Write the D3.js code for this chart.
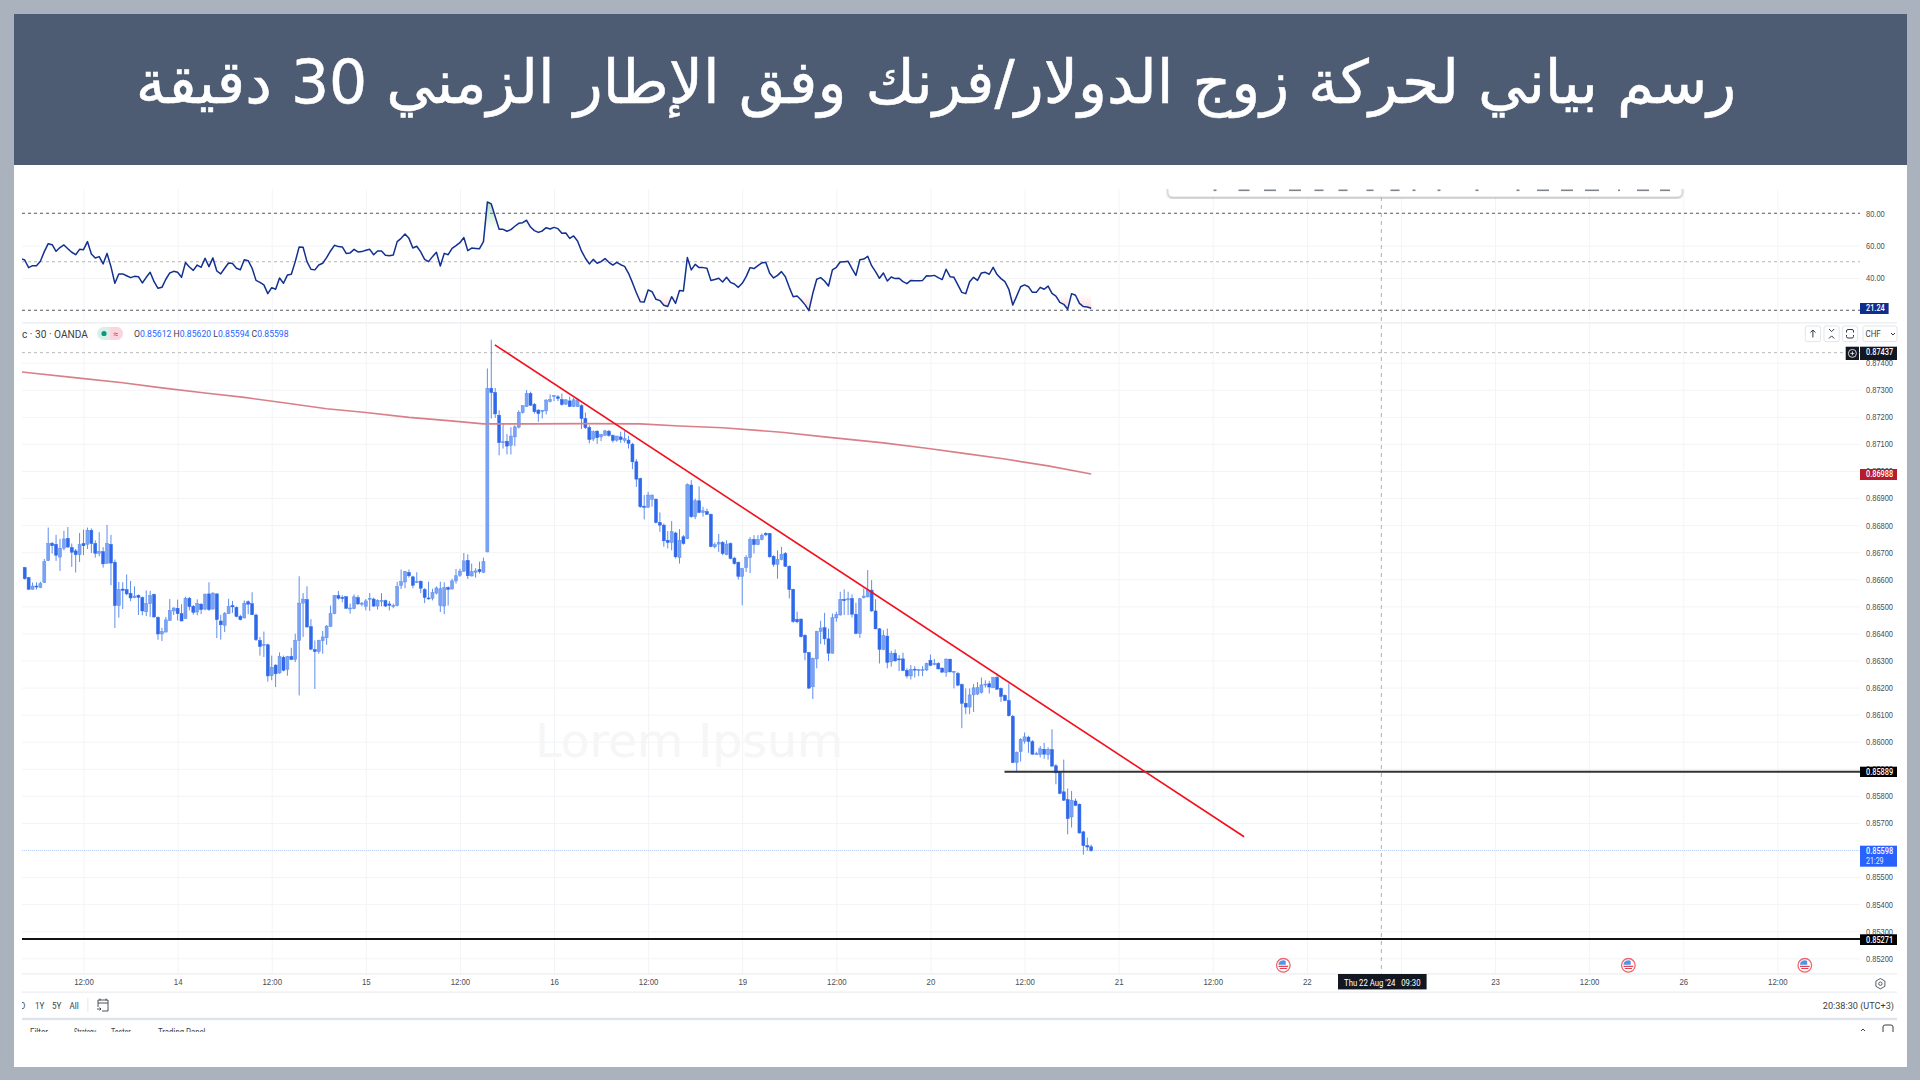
<!DOCTYPE html>
<html>
<head>
<meta charset="utf-8">
<script src="https://cdn.jsdelivr.net/npm/d3@7"></script>
<style>
  html, body { margin: 0; padding: 0; background: #aab2bd; }
  svg { display: block; font-family: Roboto, sans-serif; }
</style>
</head>
<body>
<svg id="chart" width="1920" height="1080"></svg>
<script>
// prices are in 1e-5 units (86643 = 0.86643), one 30 min bar per entry
const opens = [
  86643,86606,86563,86575,86570,86588,86669,86733,86729,86682,
  86715,86751,86717,86705,86691,86732,86729,86781,86732,86696,
  86702,86659,86729,86663,86503,86564,86562,86548,86532,86541,
  86532,86480,86510,86544,86459,86398,86405,86448,86483,86493,
  86473,86455,86530,86500,86479,86508,86490,86546,86490,86546,
  86446,86430,86473,86503,86496,86463,86457,86517,86510,86468,
  86374,86358,86358,86244,86283,86254,86312,86267,86315,86304,
  86374,86512,86525,86425,86340,86333,86373,86384,86426,86473,
  86540,86533,86536,86492,86492,86532,86508,86500,86527,86527,
  86501,86521,86521,86509,86501,86503,86577,86590,86625,86609,
  86589,86593,86562,86531,86530,86549,86503,86501,86569,86564,
  86594,86615,86630,86670,86612,86626,86636,86626,86701,87305,
  87290,87206,87107,87110,87095,87126,87162,87216,87238,87286,
  87246,87225,87221,87222,87257,87277,87274,87264,87247,87259,
  87238,87238,87241,87194,87161,87118,87147,87126,87132,87147,
  87131,87114,87126,87113,87114,87099,87034,86972,86870,86866,
  86895,86896,86810,86800,86744,86736,86771,86680,86757,86750,
  86948,86831,86890,86847,86850,86840,86720,86730,86736,86691,
  86732,86678,86663,86611,86643,86680,86747,86728,86747,86770,
  86769,86685,86655,86673,86695,86648,86563,86452,86453,86393,
  86329,86203,86306,86407,86421,86380,86327,86457,86468,86526,
  86524,86529,86471,86400,86532,86535,86560,86483,86417,86341,
  86390,86295,86327,86306,86306,86264,86243,86268,86263,86265,
  86265,86301,86285,86289,86272,86256,86305,86257,86252,86211,
  86142,86128,86173,86176,86182,86210,86214,86199,86237,86197,
  86171,86152,86094,85923,85963,86002,86017,86000,85954,85953,
  85972,85952,85971,85911,85887,85815,85786,85722,85781,85769,
  85667,85616,85612];
const highs = [
  86646,86609,86588,86589,86591,86675,86791,86738,86764,86749,
  86779,86793,86732,86712,86771,86784,86791,86788,86744,86774,
  86719,86801,86764,86673,86590,86589,86618,86594,86574,86544,
  86537,86559,86557,86547,86463,86421,86461,86527,86496,86525,
  86508,86536,86535,86505,86526,86512,86548,86589,86552,86548,
  86469,86479,86528,86520,86500,86469,86522,86522,86552,86473,
  86387,86407,86362,86318,86286,86330,86318,86317,86347,86399,
  86611,86549,86574,86453,86374,86377,86409,86431,86503,86542,
  86557,86541,86537,86510,86544,86541,86516,86527,86549,86532,
  86526,86549,86525,86520,86510,86591,86636,86631,86636,86613,
  86626,86595,86567,86591,86565,86574,86591,86589,86574,86602,
  86638,86639,86697,86692,86658,86641,86665,86680,87379,87485,
  87307,87224,87176,87137,87162,87169,87224,87243,87299,87293,
  87251,87228,87226,87265,87283,87280,87280,87286,87265,87275,
  87270,87268,87246,87216,87169,87150,87151,87137,87152,87152,
  87135,87130,87145,87147,87130,87104,87044,86975,86911,86923,
  86913,86898,86847,86806,86778,86815,86775,86785,86763,86954,
  86966,86898,86943,86868,86861,86843,86736,86767,86741,86744,
  86736,86683,86665,86642,86689,86756,86763,86763,86769,86774,
  86771,86689,86707,86720,86701,86651,86565,86480,86455,86397,
  86332,86311,86410,86447,86476,86418,86474,86480,86554,86563,
  86554,86544,86513,86531,86566,86634,86597,86526,86420,86412,
  86418,86336,86341,86320,86329,86271,86283,86279,86269,86279,
  86292,86322,86306,86294,86274,86308,86306,86261,86258,86215,
  86197,86197,86213,86220,86237,86227,86225,86240,86252,86200,
  86175,86215,86099,85964,86013,86034,86022,86006,85963,85984,
  85996,85979,86046,85917,85890,85934,85827,85818,85790,85772,
  85671,85646,85620];
const lows = [
  86599,86562,86562,86562,86567,86586,86668,86695,86668,86631,
  86707,86717,86646,86625,86664,86689,86712,86697,86680,86685,
  86643,86658,86578,86420,86458,86490,86541,86519,86530,86468,
  86467,86464,86461,86458,86377,86372,86404,86447,86468,86448,
  86445,86453,86485,86469,86467,86471,86485,86483,86488,86383,
  86377,86405,86472,86476,86459,86448,86456,86471,86468,86372,
  86318,86313,86222,86227,86202,86251,86260,86244,86301,86294,
  86171,86387,86421,86338,86195,86325,86325,86358,86424,86471,
  86525,86515,86490,86473,86489,86505,86500,86485,86483,86498,
  86488,86500,86498,86485,86493,86500,86564,86567,86606,86567,
  86586,86549,86512,86525,86522,86544,86479,86471,86503,86563,
  86584,86609,86627,86601,86611,86606,86621,86623,86700,87194,
  87196,87058,87083,87061,87061,87092,87157,87212,87236,87241,
  87212,87182,87194,87209,87253,87258,87258,87241,87244,87236,
  87236,87236,87155,87155,87102,87110,87100,87110,87130,87127,
  87105,87108,87104,87105,87083,87007,86941,86864,86821,86864,
  86868,86806,86775,86720,86714,86707,86677,86658,86728,86748,
  86827,86822,86844,86831,86839,86718,86714,86701,86689,86689,
  86674,86654,86599,86504,86627,86623,86695,86726,86744,86759,
  86680,86646,86602,86670,86646,86529,86439,86437,86385,86301,
  86195,86158,86271,86361,86358,86298,86326,86443,86466,86468,
  86468,86459,86397,86383,86529,86533,86480,86415,86289,86338,
  86271,86277,86295,86261,86262,86234,86230,86237,86242,86242,
  86261,86279,86282,86267,86255,86240,86256,86197,86205,86050,
  86102,86102,86110,86172,86178,86200,86178,86198,86192,86147,
  86150,86093,85921,85887,85927,85993,85959,85952,85952,85942,
  85937,85934,85907,85843,85806,85781,85658,85683,85762,85661,
  85583,85597,85594];
const closes = [
  86602,86563,86575,86573,86584,86665,86732,86724,86689,86715,
  86749,86719,86700,86691,86728,86724,86781,86732,86696,86702,
  86657,86732,86660,86503,86562,86559,86546,86531,86538,86533,
  86483,86510,86540,86461,86398,86407,86450,86484,86494,86473,
  86446,86530,86499,86478,86510,86488,86544,86488,86549,86451,
  86432,86474,86500,86498,86463,86451,86512,86508,86469,86377,
  86352,86360,86243,86275,86251,86315,86264,86314,86304,86374,
  86512,86527,86424,86342,86333,86374,86387,86427,86473,86540,
  86530,86531,86493,86494,86535,86509,86512,86520,86530,86501,
  86522,86522,86501,86504,86503,86573,86591,86628,86613,86578,
  86591,86567,86533,86528,86551,86568,86565,86569,86563,86594,
  86613,86630,86668,86613,86628,86631,86628,86665,87305,87290,
  87211,87105,87108,87092,87129,87163,87217,87241,87286,87243,
  87219,87212,87224,87262,87264,87279,87268,87246,87263,87238,
  87263,87263,87194,87160,87116,87145,87123,87135,87148,87131,
  87113,87129,87116,87120,87102,87034,86970,86868,86866,86911,
  86911,86810,86800,86742,86736,86776,86683,86744,86732,86950,
  86831,86890,86847,86853,86840,86721,86728,86737,86695,86730,
  86677,86658,86611,86639,86680,86747,86728,86747,86763,86764,
  86683,86655,86673,86692,86648,86562,86444,86443,86388,86329,
  86198,86308,86407,86420,86380,86327,86458,86470,86526,86521,
  86528,86471,86400,86528,86538,86560,86483,86417,86341,86393,
  86293,86326,86299,86304,86263,86243,86267,86266,86266,86266,
  86289,86282,86289,86269,86257,86305,86258,86260,86209,86142,
  86128,86173,86199,86200,86210,86213,86202,86237,86194,86167,
  86152,86096,85923,85961,86009,86018,86001,85954,85956,85974,
  85954,85972,85910,85885,85809,85784,85716,85784,85765,85663,
  85616,85611,85598];
const rsi = [
  51.1,46.4,47.6,47.6,50.3,56.3,61.2,60.6,56.5,58.8,60.4,58.1,55.9,54.4,57.7,57.5,62.5,54.8,52.4,53.2,
  48.7,55.2,47.0,36.7,42.5,42.5,41.4,40.2,41.0,40.8,36.9,40.4,43.5,37.7,33.6,34.2,39.2,43.1,44.1,43.5,
  40.4,49.5,46.8,44.7,48.0,46.6,52.2,47.0,52.4,44.3,42.5,46.0,49.3,48.9,46.0,45.1,51.3,50.7,46.0,38.5,
  37.3,35.7,30.3,34.0,33.0,40.0,36.7,41.8,42.3,50.1,59.2,59.0,50.1,45.4,45.0,48.0,49.1,52.6,56.7,60.2,
  59.4,59.2,55.2,55.5,57.7,56.1,56.3,57.1,57.7,54.4,56.7,56.7,54.0,53.8,54.2,62.5,64.5,67.2,64.5,58.5,
  59.6,56.1,51.5,50.1,53.2,55.9,47.4,55.2,54.4,58.3,60.0,61.8,65.0,56.9,58.5,58.3,58.1,62.5,87.0,85.8,
  77.9,70.1,70.1,68.9,69.9,72.0,73.8,74.2,75.7,71.5,69.3,68.2,69.1,71.1,70.3,71.3,70.5,67.6,67.8,64.5,
  66.0,62.9,56.7,52.2,48.7,51.5,49.1,50.1,52.0,49.7,48.0,49.7,48.2,47.2,42.9,37.1,30.9,25.3,25.1,32.6,
  31.5,26.8,26.0,23.1,22.3,28.4,24.3,32.2,32.0,52.6,45.0,48.4,46.4,46.4,46.0,38.5,39.0,39.8,37.5,40.4,
  37.3,36.3,34.2,36.7,40.8,46.4,45.8,47.6,49.3,49.7,42.9,40.0,41.6,43.9,40.8,34.2,28.4,28.8,26.4,23.5,
  19.8,30.5,39.2,40.2,38.1,35.0,45.0,46.6,49.9,50.1,50.3,45.8,41.6,51.3,51.7,53.4,47.6,43.9,39.8,43.1,
  38.1,40.6,39.6,39.8,37.7,36.5,38.5,38.3,38.3,38.5,41.4,41.2,41.6,40.2,39.0,45.4,40.8,40.4,35.7,31.1,
  30.3,37.7,40.4,38.5,43.1,43.5,42.3,46.6,42.1,39.6,37.7,33.0,23.3,28.8,34.6,35.7,34.6,31.1,31.1,34.2,
  33.0,35.0,30.5,28.8,24.9,23.7,20.6,30.3,29.3,24.3,22.3,22.0,21.24];
const rsiPrev = 52.0; // bar just off the left edge

// moving average, read at its bends only
const maBars = [-1,14.5,25,35,46,56,67,77,87,98,108,117,129,142,157,167,178,193,204,219,230,240,250,261,272];
const maValues = [87366,87342,87326,87307,87288,87272,87250,87230,87216,87198,87186,87174,87174,87175,87174,87166,87160,87143,87126,87104,87084,87064,87044,87019,86989];

const trendBars = [119.9, 311];
const trendPrices = [87466, 85649];

const rsiTicks = [80, 60, 40];
const rsiLevels = [80, 50, 20];
const priceTicks = d3.range(87400, 85199, -100);
const timeBars = [15,39,63,87,111,135,159,183,207,231,255,279,303,327,351,375,399,423,447];
const timeLabels = ['12:00','14','12:00','15','12:00','16','12:00','19','12:00','20','12:00','21','12:00','22','','23','12:00','26','12:00'];
const eventBars = [321, 409, 454];
const crossBar = 346;
const toolbarMarks = [1215,1244,1270,1295,1319,1343,1370,1395,1414,1439,1477,1518,1543,1567,1592,1619,1643,1665];
const toolbarWidths = [3,11,12,12,9,9,7,9,3,3,3,3,12,12,14,2,12,10];

const titleText = 'رسم بياني لحركة زوج الدولار/فرنك وفق الإطار الزمني 30 دقيقة';

const left = 22, right = 1860;

const x = d3.scaleLinear().domain([0, 468]).range([24.7, 1859.7]);
const yPrice = d3.scaleLinear().domain([87400, 85200]).range([362.7, 958.3]);
const yRsi = d3.scaleLinear().domain([80, 20]).range([213.3, 310.3]);

const svg = d3.select('#chart');
const pct = v => (v / 1e5).toFixed(5);

// narrows the axis text a little, the source screenshot is squeezed sideways
function squeeze(sel, k) {
  sel.each(function () {
    const len = this.getComputedTextLength();
    if (len > 0) d3.select(this).attr('textLength', len * k).attr('lengthAdjust', 'spacingAndGlyphs');
  });
}

function label(g, px, py, txt, size, fill, anchor, k) {
  const t = g.append('text').attr('x', px).attr('y', py).text(txt)
    .attr('font-size', size).attr('fill', fill).attr('text-anchor', anchor || 'start');
  if (k) squeeze(t, k);
  return t;
}

const defs = svg.append('defs');
defs.append('clipPath').attr('id', 'plot').append('rect')
  .attr('x', left).attr('y', 189).attr('width', right - left).attr('height', 785);
defs.append('clipPath').attr('id', 'tabs').append('rect')
  .attr('x', left).attr('y', 1024).attr('width', 1880).attr('height', 8);
defs.append('clipPath').attr('id', 'tools').append('rect')
  .attr('x', 1160).attr('y', 189).attr('width', 530).attr('height', 14);
defs.append('clipPath').attr('id', 'rng').append('rect')
  .attr('x', 22).attr('y', 995).attr('width', 100).attr('height', 20);
defs.append('filter').attr('id', 'soft').append('feGaussianBlur').attr('stdDeviation', 0.35);
defs.append('filter').attr('id', 'shadow').append('feDropShadow')
  .attr('dx', 0).attr('dy', 1).attr('stdDeviation', 1.2).attr('flood-color', '#777').attr('flood-opacity', 0.6);

const gradUp = defs.append('linearGradient').attr('id', 'gradUp').attr('x1', 0).attr('x2', 0).attr('y1', 0).attr('y2', 1);
gradUp.append('stop').attr('offset', '0').attr('stop-color', '#b6e2c0');
gradUp.append('stop').attr('offset', '1').attr('stop-color', '#ffffff');
const gradDown = defs.append('linearGradient').attr('id', 'gradDown').attr('x1', 0).attr('x2', 0).attr('y1', 0).attr('y2', 1);
gradDown.append('stop').attr('offset', '0').attr('stop-color', '#ffffff');
gradDown.append('stop').attr('offset', '1').attr('stop-color', '#fdd5d5');

// page frame and header
svg.append('rect').attr('width', 1920).attr('height', 1080).attr('fill', '#aab2bd');
svg.append('rect').attr('x', 14).attr('y', 14).attr('width', 1893).attr('height', 1053).attr('fill', '#ffffff');
svg.append('rect').attr('x', 14).attr('y', 14).attr('width', 1893).attr('height', 151).attr('fill', '#4d5b73');
svg.append('text').attr('x', 936).attr('y', 103).attr('text-anchor', 'middle')
  .attr('direction', 'rtl').attr('font-family', '"DejaVu Sans", sans-serif')
  .attr('font-size', 60).attr('fill', '#ffffff')
  .attr('stroke', '#ffffff').attr('stroke-width', 0.5).text(titleText);

// grid
const gridColor = '#f3f4f7';
svg.append('g').attr('transform', 'translate(0,322)')
  .call(d3.axisBottom(x).tickValues(timeBars).tickSize(652).tickFormat(''))
  .call(g => g.select('.domain').remove())
  .call(g => g.selectAll('line').attr('stroke', gridColor));
svg.append('g').attr('transform', 'translate(0,189)')
  .call(d3.axisBottom(x).tickValues(timeBars).tickSize(132).tickFormat(''))
  .call(g => g.select('.domain').remove())
  .call(g => g.selectAll('line').attr('stroke', gridColor));
svg.append('g').attr('transform', `translate(${right},0)`)
  .call(d3.axisLeft(yPrice).tickValues(priceTicks).tickSize(right - left).tickFormat(''))
  .call(g => g.select('.domain').remove())
  .call(g => g.selectAll('line').attr('stroke', gridColor));
svg.append('g').attr('transform', `translate(${right},0)`)
  .call(d3.axisLeft(yRsi).tickValues(rsiTicks).tickSize(right - left).tickFormat(''))
  .call(g => g.select('.domain').remove())
  .call(g => g.selectAll('line').attr('stroke', gridColor));

// floating toolbar cut off by the crop
const tools = svg.append('g').attr('clip-path', 'url(#tools)');
tools.append('path').attr('d', 'M1168,180V192q0,5 5,5H1677q5,0 5,-5V180Z')
  .attr('fill', '#ffffff').attr('stroke', '#d8d8d8').attr('filter', 'url(#shadow)');
tools.selectAll('.mark').data(toolbarMarks).enter().append('rect').attr('class', 'mark')
  .attr('x', (d, i) => d - toolbarWidths[i] / 2).attr('y', 189.5)
  .attr('width', (d, i) => toolbarWidths[i]).attr('height', 1.6).attr('fill', '#7f848d');

// watermark
svg.append('text').attr('x', 535).attr('y', 757).attr('font-family', '"DejaVu Sans", sans-serif')
  .attr('font-size', 46).attr('fill', '#f6f6f7').attr('textLength', 308).attr('lengthAdjust', 'spacingAndGlyphs')
  .text('Lorem Ipsum');

const bars = d3.range(closes.length);
const plot = svg.append('g').attr('clip-path', 'url(#plot)');

// rsi pane
const areaUp = d3.area().x(d => x(d)).y0(yRsi(70)).y1(d => yRsi(Math.max(rsi[d], 70))).defined(d => rsi[d] > 70 || rsi[d + 1] > 70 || rsi[d - 1] > 70);
const areaDown = d3.area().x(d => x(d)).y0(yRsi(30)).y1(d => yRsi(Math.min(rsi[d], 30))).defined(d => rsi[d] < 30 || rsi[d + 1] < 30 || rsi[d - 1] < 30);
plot.append('path').attr('d', areaUp(bars)).attr('fill', 'url(#gradUp)');
plot.append('path').attr('d', areaDown(bars)).attr('fill', 'url(#gradDown)');

plot.selectAll('.level').data(rsiLevels).enter().append('line').attr('class', 'level')
  .attr('x1', left).attr('x2', right)
  .attr('y1', d => yRsi(d)).attr('y2', d => yRsi(d))
  .attr('stroke', d => d === 50 ? '#b5b5b5' : '#555a62').attr('stroke-width', 1.1)
  .attr('stroke-dasharray', '3 3');

plot.append('path').attr('fill', 'none').attr('stroke', '#12308f').attr('stroke-width', 1.5)
  .attr('stroke-linejoin', 'round')
  .attr('d', d3.line().x(d => x(d)).y(d => yRsi(d < 0 ? rsiPrev : rsi[d]))([-1].concat(bars)));

// pane separator
svg.append('rect').attr('x', left).attr('y', 322).attr('width', right - left + 37).attr('height', 1.6).attr('fill', '#eef0f4');

// crosshair
plot.append('line').attr('x1', left).attr('x2', right)
  .attr('y1', yPrice(87437)).attr('y2', yPrice(87437))
  .attr('stroke', '#b8b8b8').attr('stroke-dasharray', '3 3');
plot.append('line').attr('x1', x(crossBar)).attr('x2', x(crossBar))
  .attr('y1', 197).attr('y2', 974)
  .attr('stroke', '#b0b0b0').attr('stroke-dasharray', '4 4');

// last price line
plot.append('line').attr('x1', left).attr('x2', right)
  .attr('y1', yPrice(closes[closes.length - 1])).attr('y2', yPrice(closes[closes.length - 1]))
  .attr('stroke', '#bcd2f7').attr('stroke-dasharray', '1 1');

// candles
const candles = plot.append('g').attr('filter', 'url(#soft)');
candles.selectAll('.wick').data(bars).enter().append('line').attr('class', 'wick')
  .attr('x1', d => x(d)).attr('x2', d => x(d))
  .attr('y1', d => yPrice(highs[d])).attr('y2', d => yPrice(lows[d]))
  .attr('stroke', '#5f8dee').attr('stroke-width', 1);
candles.selectAll('.body').data(bars).enter().append('rect').attr('class', 'body')
  .attr('x', d => x(d) - 1.5).attr('width', 3)
  .attr('y', d => yPrice(Math.max(opens[d], closes[d])))
  .attr('height', d => Math.max(1, Math.abs(yPrice(opens[d]) - yPrice(closes[d]))))
  .attr('fill', d => opens[d] > closes[d] ? '#2f69ea' : '#7ba3f2')
  .attr('stroke', d => opens[d] > closes[d] ? '#2f69ea' : '#5c8df0').attr('stroke-width', 0.5);

// moving average
plot.append('path').attr('fill', 'none').attr('stroke', '#d97f88').attr('stroke-width', 1.6)
  .attr('d', d3.line().x((d, i) => x(maBars[i])).y(d => yPrice(d))(maValues));

// support lines and trend line
plot.append('line').attr('x1', 1004.5).attr('x2', right)
  .attr('y1', yPrice(85889)).attr('y2', yPrice(85889)).attr('stroke', '#333333').attr('stroke-width', 1.8);
plot.append('line').attr('x1', left).attr('x2', right)
  .attr('y1', yPrice(85271)).attr('y2', yPrice(85271)).attr('stroke', '#111111').attr('stroke-width', 2);
plot.append('path').attr('fill', 'none').attr('stroke', '#f2101e').attr('stroke-width', 1.6)
  .attr('d', d3.line().x((d, i) => x(trendBars[i])).y(d => yPrice(d))(trendPrices));

// axes
svg.append('g').attr('transform', `translate(${right + 6},0)`)
  .call(d3.axisRight(yPrice).tickValues(priceTicks).tickSize(0).tickPadding(0).tickFormat(pct))
  .call(g => g.select('.domain').remove())
  .call(g => g.selectAll('text').attr('font-size', 9).attr('fill', '#4a4e57').call(squeeze, 0.83));
svg.append('g').attr('transform', `translate(${right + 6},0)`)
  .call(d3.axisRight(yRsi).tickValues(rsiTicks).tickSize(0).tickPadding(0).tickFormat(d => d.toFixed(2)))
  .call(g => g.select('.domain').remove())
  .call(g => g.selectAll('text').attr('font-size', 9).attr('fill', '#4a4e57').call(squeeze, 0.83));
svg.append('g').attr('transform', 'translate(0,974)')
  .call(d3.axisBottom(x).tickValues(timeBars).tickSize(0).tickPadding(5).tickFormat((d, i) => timeLabels[i]))
  .call(g => g.select('.domain').remove())
  .call(g => g.selectAll('text').attr('font-size', 9).attr('fill', '#4a4e57').call(squeeze, 0.87));

svg.append('rect').attr('x', left).attr('y', 973.4).attr('width', 1875).attr('height', 1).attr('fill', '#e6e8ee');
svg.append('rect').attr('x', left).attr('y', 991.6).attr('width', 1875).attr('height', 1).attr('fill', '#e6e8ee');
svg.append('rect').attr('x', left).attr('y', 1017.8).attr('width', 1875).attr('height', 2.4).attr('fill', '#dfe3ec');

// price tags on the right
const tags = svg.append('g');
function tag(y0, y1, w, fill, txt, sub) {
  tags.append('rect').attr('x', right).attr('y', y0).attr('width', w).attr('height', y1 - y0).attr('fill', fill);
  label(tags, right + 6, y0 + 8.2, txt, 9, '#ffffff', 'start', 0.83).attr('font-weight', 500);
  if (sub) label(tags, right + 6, y0 + 18, sub, 8.5, '#e4ecff', 'start', 0.83);
}
tag(303, 314, 28.6, '#0f2d8c', '21.24');
tag(346.7, 360, 37, '#131722', pct(87437));
tag(469, 480, 37, '#b71c2c', pct(86988));
tag(766.7, 777, 37, '#000000', pct(85889));
tag(845.7, 866.7, 37, '#2962ff', pct(85598), '21:29');
tag(934.3, 945, 37, '#000000', pct(85271));

// plus button next to the crosshair tag
tags.append('rect').attr('x', 1845.7).attr('y', 346.7).attr('width', 13.3).attr('height', 13.3).attr('fill', '#131722');
tags.append('circle').attr('cx', 1852.4).attr('cy', 353.4).attr('r', 4).attr('fill', 'none').attr('stroke', '#ffffff').attr('stroke-width', 0.8);
tags.append('path').attr('d', 'M1850.4,353.4h4M1852.4,351.4v4').attr('stroke', '#ffffff').attr('stroke-width', 0.8);

// legend row
const legend = svg.append('g');
label(legend, 22, 337.5, 'c · 30 · OANDA', 10, '#3a3e47').attr('textLength', 66).attr('lengthAdjust', 'spacingAndGlyphs');
legend.append('rect').attr('x', 97).attr('y', 327).attr('width', 26).attr('height', 13).attr('rx', 6.5).attr('fill', '#d9f0ea');
legend.append('path').attr('d', 'M110,327h6.5a6.5,6.5 0 0 1 0,13h-6.5Z').attr('fill', '#fbd5de');
legend.append('circle').attr('cx', 104).attr('cy', 333.5).attr('r', 2.6).attr('fill', '#0d9a7c');
label(legend, 116, 336.5, '≈', 9, '#e0355f', 'middle');
const ohlc = legend.append('text').attr('x', 134).attr('y', 337).attr('font-size', 9.3)
  .attr('textLength', 154.6).attr('lengthAdjust', 'spacingAndGlyphs');
[['O', opens], ['H', highs], ['L', lows], ['C', closes]].forEach((p, i) => {
  ohlc.append('tspan').attr('fill', '#3a3e47').text((i ? ' ' : '') + p[0]);
  ohlc.append('tspan').attr('fill', '#2962ff').text(pct(p[1][p[1].length - 1]));
});

// small buttons top right of the price pane
const btns = svg.append('g');
[1805.3, 1824, 1842.4].forEach(bx => {
  btns.append('rect').attr('x', bx).attr('y', 326).attr('width', 15.2).attr('height', 15.6).attr('rx', 2)
    .attr('fill', '#ffffff').attr('stroke', '#e3e5ea');
});
btns.append('path').attr('d', 'M1812.9,337.5v-7.5M1810.4,332.5l2.5,-2.5l2.5,2.5').attr('fill', 'none').attr('stroke', '#333a45');
btns.append('path').attr('d', 'M1829,329l2.6,2.6l2.6,-2.6M1829,338.5l2.6,-2.6l2.6,2.6').attr('fill', 'none').attr('stroke', '#333a45');
btns.append('path').attr('d', 'M1846.5,332.5v-1.5q0,-1.5 1.5,-1.5h4q1.5,0 1.5,1.5v1.5M1846.5,335v1.5q0,1.5 1.5,1.5h4q1.5,0 1.5,-1.5v-1.5').attr('fill', 'none').attr('stroke', '#333a45');
btns.append('rect').attr('x', 1863).attr('y', 326).attr('width', 34).attr('height', 15.6).attr('rx', 2)
  .attr('fill', '#ffffff').attr('stroke', '#e3e5ea');
label(btns, 1865.5, 337, 'CHF', 9, '#3a3e47', 'start', 0.88);
btns.append('path').attr('d', 'M1891,333l2,2l2,-2').attr('fill', 'none').attr('stroke', '#333a45');

// crosshair date tag
svg.append('rect').attr('x', 1338).attr('y', 974).attr('width', 88.6).attr('height', 15.4).attr('fill', '#131722');
label(svg, 1344, 985.5, "Thu 22 Aug '24\u00a0\u00a0\u00a009:30", 9, '#ffffff')
  .attr('textLength', 76.5).attr('lengthAdjust', 'spacingAndGlyphs');

// news flags
const flags = svg.append('g');
eventBars.forEach(b => {
  const f = flags.append('g').attr('transform', `translate(${x(b)},965.3)`);
  f.append('circle').attr('r', 6.8).attr('fill', '#ffffff').attr('stroke', '#f0646e').attr('stroke-width', 1.3);
  f.append('path').attr('d', 'M-5,-0.6A5,5 0 0 1 2.4,-4.4V-0.6Z').attr('fill', '#4f97e3');
  f.append('path').attr('d', 'M-4.8,1H4.8M-3.6,3.2H3.6').attr('stroke', '#e8414e').attr('stroke-width', 1.2);
});

// gear
svg.append('path').attr('d', 'M1880.4,978.5l4.5,2.6v5.2l-4.5,2.6l-4.5,-2.6v-5.2Z').attr('fill', 'none').attr('stroke', '#444a55').attr('stroke-width', 0.9);
svg.append('circle').attr('cx', 1880.4).attr('cy', 983.7).attr('r', 1.7).attr('fill', 'none').attr('stroke', '#444a55').attr('stroke-width', 0.9);

// range row
const rangeRow = svg.append('g').attr('clip-path', 'url(#rng)');
label(rangeRow, 20, 1008.5, 'D', 9.5, '#3a3e47', 'start', 0.85);
label(rangeRow, 35, 1008.5, '1Y', 9.5, '#3a3e47', 'start', 0.85);
label(rangeRow, 52, 1008.5, '5Y', 9.5, '#3a3e47', 'start', 0.85);
label(rangeRow, 69.5, 1008.5, 'All', 9.5, '#3a3e47', 'start', 0.85);
rangeRow.append('rect').attr('x', 87.5).attr('y', 998).attr('width', 0.8).attr('height', 14).attr('fill', '#dfe1e6');
rangeRow.append('path').attr('d', 'M98,1000h10v11h-6M98,1000v7M98,1003h10M100,998.5v2M106,998.5v2M97,1009h4M99.5,1007.5l1.5,1.5l-1.5,1.5')
  .attr('fill', 'none').attr('stroke', '#3a3e47').attr('stroke-width', 0.9);
label(svg, 1894, 1008.5, '20:38:30 (UTC+3)', 9.5, '#3a3e47', 'end', 0.96);

// bottom tabs, only the top of the letters survives the crop
const tabs = svg.append('g').attr('clip-path', 'url(#tabs)');
label(tabs, 30, 1036, 'Filter', 10, '#3a3e47', 'start', 0.8);
label(tabs, 74, 1036, 'Strategy', 10, '#3a3e47', 'start', 0.6);
label(tabs, 111, 1036, 'Tester', 10, '#3a3e47', 'start', 0.7);
label(tabs, 158, 1036, 'Trading Panel', 10, '#3a3e47', 'start', 0.78);
tabs.append('path').attr('d', 'M1861,1031l2,-2l2,2M1883,1032v-5q0,-2 2,-2h6q2,0 2,2v5').attr('fill', 'none').attr('stroke', '#3a3e47');
</script>
</body>
</html>
